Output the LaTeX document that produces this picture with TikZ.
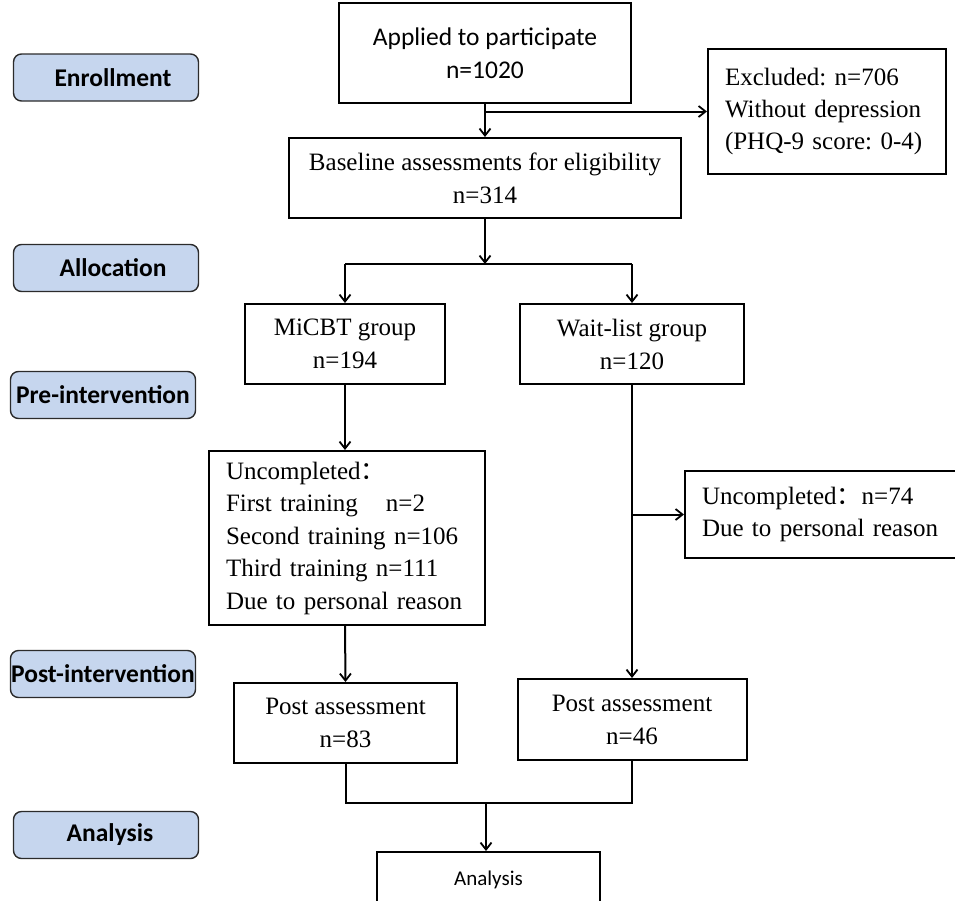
\documentclass[tikz,border=0pt]{standalone}
\usepackage{fontspec}
\setmainfont{Liberation Serif}
\newfontfamily\calfont{Carlito}
\newfontfamily\cjkfont{Noto Sans CJK SC}
\usepackage{tikz}
\usetikzlibrary{positioning,arrows.meta,calc}
\definecolor{stageblue}{HTML}{C6D6EE}
\definecolor{stageline}{HTML}{2B2B2B}
\frenchspacing

\begin{document}
\begin{tikzpicture}[
    x=1pt, y=-1pt,
    >={Straight Barb[length=7pt,width=11pt,line width=1.8pt]},
    stagebox/.style={draw=stageline, line width=1.4pt, fill=stageblue, rounded corners=8pt,
        minimum width=185pt, minimum height=47pt, inner sep=0pt,
        font=\calfont\bfseries\fontsize{25.5}{29}\selectfont},
    flowbox/.style={draw, line width=2pt, inner sep=0pt, align=center,
        font=\fontsize{25}{33}\selectfont},
    notebox/.style={flowbox, align=left, inner xsep=17pt},
    flowarrow/.style={->, line width=2pt},
    flowline/.style={line width=2pt},
]
\useasboundingbox (0,0) rectangle (955,900);

% ---- Left: stage labels ----
\node[stagebox] (enroll) at (106,77.5) {\hspace*{14pt}Enrollment};
\node[stagebox] (alloc) at (106,268) {\hspace*{14pt}Allocation};
\node[stagebox] (pre) at (103,395) {Pre-intervention};
\node[stagebox] (post) at (103,674) {Post-intervention};
\node[stagebox] (anlabel) at (106,835) {\hspace*{8pt}Analysis};

% ---- Enrollment ----
\node[flowbox, minimum width=292pt, minimum height=100pt, font=\calfont\fontsize{25.5}{33}\selectfont] (applied) at (485,53) {Applied to participate\\n=1020};
\node[notebox, text width=204pt, minimum height=125pt, font=\fontsize{25}{32}\selectfont] (excl) at (827,111.5) {Excluded: n=706\\Without depression\\(PHQ-9 score: 0-4)};
\node[flowbox, minimum width=392pt, minimum height=80pt] (base) at (485,178) {Baseline assessments for eligibility\\n=314};

\draw[flowarrow] (applied.south) -- (base.north);
\draw[flowarrow] (applied.south |- excl.west) -- (excl.west);

% ---- Allocation ----
\coordinate (split) at (485,264);
\node[flowbox, minimum width=200pt, minimum height=80pt] (micbt) at (345,344) {MiCBT group\\n=194};
\node[flowbox, minimum width=224pt, minimum height=80pt] (wait) at (632,344) {Wait-list group\\n=120};

\draw[flowarrow] (base.south) -- (split);
\draw[flowline] (split -| micbt) -- (split -| wait);
\draw[flowarrow] (split -| micbt) -- (micbt.north);
\draw[flowarrow] (split -| wait) -- (wait.north);

% ---- Intervention ----
\node[notebox, text width=242pt, minimum height=174pt, font=\fontsize{25}{32.5}\selectfont] (uncl) at (347,538) {Uncompleted{\cjkfont ：}\\First training\hspace{28pt}n=2\\Second training n=106\\Third training n=111\\Due to personal reason};
\node[notebox, text width=250pt, minimum height=87pt, font=\fontsize{25}{32}\selectfont] (uncr) at (827,514.5) {Uncompleted{\cjkfont ：}n=74\\Due to personal reason};

\draw[flowarrow] (micbt.south) -- (micbt.south |- uncl.north);
\draw[flowarrow] (wait.south |- uncr.west) -- (uncr.west);

% ---- Post-intervention ----
\node[flowbox, minimum width=223pt, minimum height=80pt] (postl) at (345.5,723) {Post assessment\\n=83};
\node[flowbox, minimum width=229pt, minimum height=81pt] (postr) at (632,719.5) {Post assessment\\n=46};

\draw[flowarrow] (uncl.south -| micbt) -- (postl.north);
\draw[flowarrow] (wait.south) -- (postr.north);

% ---- Analysis ----
\coordinate (join) at (486,803);
\node[flowbox, minimum width=223pt, minimum height=56pt, font=\calfont\fontsize{21}{25}\selectfont] (anal) at (488.5,880) {Analysis};

\draw[flowline] (postl.south) -- (postl.south |- join) -- (postr.south |- join) -- (postr.south);
\draw[flowarrow] (join) -- (join |- anal.north);

\end{tikzpicture}
\end{document}
